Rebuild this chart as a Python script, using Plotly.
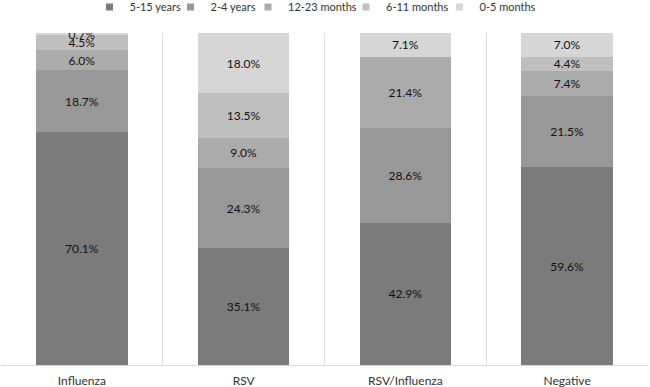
import plotly.graph_objects as go

categories = ["Influenza", "RSV", "RSV/Influenza", "Negative"]
series_names = ["5-15 years", "2-4 years", "12-23 months", "6-11 months", "0-5 months"]
v_5_15_years = [70.1, 35.1, 42.9, 59.6]
v_2_4_years = [18.7, 24.3, 28.6, 21.5]
v_12_23_months = [6.0, 9.0, 21.4, 7.4]
v_6_11_months = [4.5, 13.5, 0.0, 4.4]
v_0_5_months = [0.7, 18.0, 7.1, 7.0]

series_values = [v_5_15_years, v_2_4_years, v_12_23_months, v_6_11_months, v_0_5_months]
colors = ["#7b7b7b", "#989898", "#ababab", "#bfbfbf", "#d6d6d6"]
# left edge (px) of each legend entry's text
legend_text_x = [129.5, 210.5, 288, 386, 479.5]

FONT = "Lato, 'Open Sans', sans-serif"
W, H = 650, 387

fig = go.Figure()
legend_layouts = {}
for i, (name, vals, col) in enumerate(zip(series_names, series_values, colors)):
    lg = "legend" if i == 0 else f"legend{i + 1}"
    fig.add_trace(go.Bar(
        name=name,
        x=categories,
        y=vals,
        legendgroup=name,
        showlegend=False,
        marker=dict(color=col, line=dict(width=0)),
        text=[f"{v:.1f}%" if v > 0 else "" for v in vals],
        textposition="inside",
        insidetextanchor="middle",
        textangle=0,
        textfont=dict(family=FONT, size=12, color="#111111"),
        hoverinfo="skip",
    ))
    # legend key (small square) for the series
    fig.add_trace(go.Scatter(
        name=name,
        x=[None],
        y=[None],
        mode="markers",
        legendgroup=name,
        legend=lg,
        showlegend=True,
        marker=dict(symbol="square", size=7, color=col, line=dict(width=0)),
        hoverinfo="skip",
    ))
    legend_layouts[lg] = dict(
        orientation="h",
        x=(legend_text_x[i] - 40) / W, xref="container", xanchor="left",
        y=1 - 7 / H, yref="container", yanchor="middle",
        font=dict(family=FONT, size=11, color="#333333"),
        itemwidth=30,
        itemsizing="trace",
        bgcolor="rgba(0,0,0,0)",
        borderwidth=0,
    )

fig.update_layout(
    barmode="stack",
    bargap=0.435,
    width=W,
    height=H,
    margin=dict(l=1, r=2, t=33, b=22, autoexpand=False),
    paper_bgcolor="white",
    plot_bgcolor="white",
    uniformtext=dict(minsize=12, mode="show"),
    font=dict(family=FONT, size=12, color="#333333"),
    showlegend=True,
    xaxis=dict(
        type="category",
        tickson="boundaries",
        showgrid=True,
        gridcolor="#dedede",
        gridwidth=1,
        showline=True,
        linecolor="#d9d9d9",
        linewidth=1,
        mirror=False,
        ticks="",
        ticklabelstandoff=5,
        automargin=False,
        tickfont=dict(family=FONT, size=12, color="#333333"),
        fixedrange=True,
    ),
    yaxis=dict(
        range=[0, 100],
        visible=False,
        showgrid=False,
        zeroline=False,
        fixedrange=True,
    ),
    **legend_layouts,
)

fig.write_html(
    "out.html",
    config={"displayModeBar": False},
    post_script="document.body.style.margin='0';document.body.style.padding='0';",
)
